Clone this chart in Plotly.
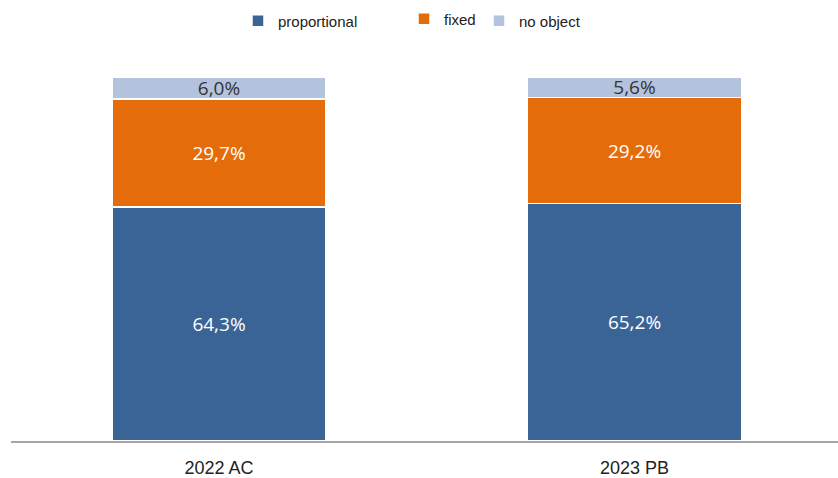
import plotly.graph_objects as go

categories = ["2022 AC", "2023 PB"]
series_names = ["proportional", "fixed", "no object"]
proportional = [64.3, 65.2]
fixed = [29.7, 29.2]
no_object = [6.0, 5.6]

colors = ["#3B6496", "#E46C0A", "#B3C3DE"]
text_colors = ["white", "white", "#333333"]
legend_ids = ["legend", "legend2", "legend3"]

def fmt(v):
    return f"{v:.1f}%".replace(".", ",")

fig = go.Figure()
for name, vals, col, tcol, lid in zip(series_names, [proportional, fixed, no_object], colors, text_colors, legend_ids):
    fig.add_trace(go.Bar(
        x=categories, y=vals, name=name,
        marker=dict(color=col, line=dict(color="white", width=1.5)),
        text=[fmt(v) for v in vals], textposition="inside",
        insidetextanchor="middle",
        textfont=dict(family="Open Sans", size=19, color=tcol),
        legend=lid, showlegend=True,
    ))

leg_common = dict(orientation="v", yanchor="middle", xanchor="left",
                  xref="container", yref="container",
                  font=dict(family="Liberation Sans, Arial", size=15, color="#222222"),
                  bgcolor="rgba(0,0,0,0)", borderwidth=0)
fig.update_layout(
    barmode="stack",
    bargap=0.485,
    width=838, height=478,
    margin=dict(l=11, r=0, t=77, b=37, autoexpand=False),
    paper_bgcolor="white", plot_bgcolor="white",
    uniformtext=dict(minsize=19, mode="show"),
    legend=dict(x=238 / 838, y=1 - 21 / 478, **leg_common),
    legend2=dict(x=404 / 838, y=1 - 19 / 478, **leg_common),
    legend3=dict(x=479 / 838, y=1 - 21 / 478, **leg_common),
    xaxis=dict(showline=True, linecolor="#A6A6A6", linewidth=2, ticks="",
               tickfont=dict(family="Liberation Sans, Arial", size=18, color="#222222"),
               ticklabelstandoff=9, range=[-0.5006, 1.4898]),
    yaxis=dict(range=[0, 100], visible=False, showgrid=False),
)
fig.write_html("out.html", config={"displayModeBar": False},
               post_script="document.body.style.margin='0';document.body.style.overflow='hidden';")
